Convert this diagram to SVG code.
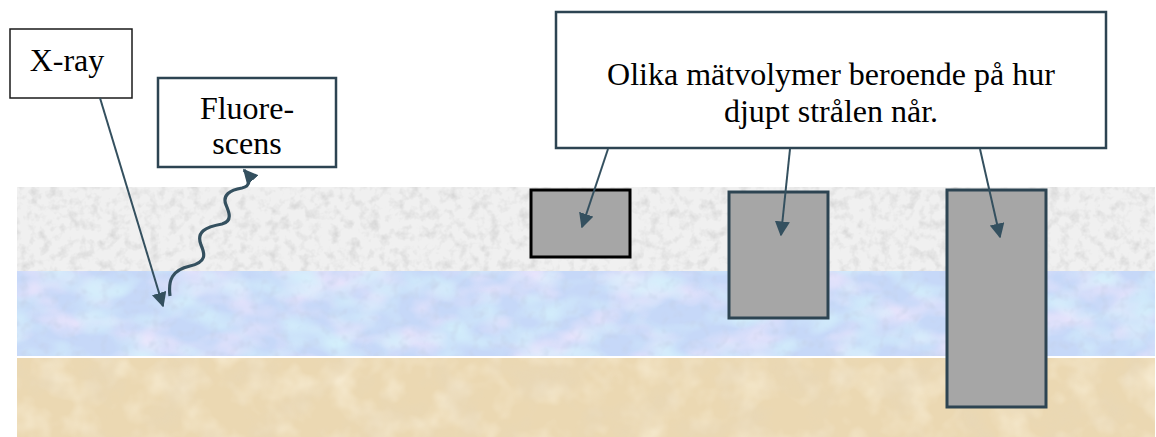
<svg xmlns="http://www.w3.org/2000/svg" width="1156" height="437" viewBox="0 0 1156 437">
  <style>
    .label { font-family: "Liberation Serif", "Times New Roman", serif; font-size: 32px; fill: #000; text-anchor: middle; }
    .box { fill: #ffffff; stroke: #2d4452; stroke-width: 2.5; }
    .box-dark { fill: #ffffff; stroke: #1a1a1a; stroke-width: 1.5; }
    .volume { fill: #a6a6a6; stroke: #2d4452; stroke-width: 3; }
    .volume-black { fill: #a6a6a6; stroke: #000000; stroke-width: 3; }
    .conn { fill: none; stroke: #34505f; stroke-width: 2; marker-end: url(#arrow); }
    .wave { fill: none; stroke: #34505f; stroke-width: 3.2; marker-end: url(#arrow); }
  </style>
  <defs>
    <marker id="arrow" viewBox="0 0 10 10" refX="9" refY="5" markerWidth="15" markerHeight="15" markerUnits="userSpaceOnUse" orient="auto">
      <path d="M0,0 L10,5 L0,10 z" fill="#34505f"/>
    </marker>
    <!-- speckled grey granite grain -->
    <filter id="granite" x="0" y="0" width="100%" height="100%">
      <feTurbulence type="fractalNoise" baseFrequency="0.1" numOctaves="3" seed="4" result="n"/>
      <feColorMatrix in="n" type="matrix" values="0 0 0 0 0.62  0 0 0 0 0.62  0 0 0 0 0.62  1.6 0 0 0 -0.72" result="c"/>
      <feComposite in="c" in2="SourceGraphic" operator="in"/>
    </filter>
    <!-- soft lavender / cyan mottling -->
    <filter id="water" x="0" y="0" width="100%" height="100%">
      <feTurbulence type="fractalNoise" baseFrequency="0.018 0.03" numOctaves="3" seed="7" result="n"/>
      <feColorMatrix in="n" type="matrix" values="0 0 0 0 0.88  0 0 0 0 0.80  0 0 0 0 0.98  2.2 0 0 0 -0.95" result="lav"/>
      <feTurbulence type="fractalNoise" baseFrequency="0.025 0.04" numOctaves="2" seed="11" result="n2"/>
      <feColorMatrix in="n2" type="matrix" values="0 0 0 0 0.66  0 0 0 0 0.88  0 0 0 0 0.97  2.2 0 0 0 -0.95" result="cy"/>
      <feTurbulence type="fractalNoise" baseFrequency="0.1" numOctaves="2" seed="2" result="n3"/>
      <feColorMatrix in="n3" type="matrix" values="0 0 0 0 0.55  0 0 0 0 0.63  0 0 0 0 0.80  1.4 0 0 0 -0.72" result="sp"/>
      <feMerge result="m"><feMergeNode in="lav"/><feMergeNode in="cy"/><feMergeNode in="sp"/></feMerge>
      <feComposite in="m" in2="SourceGraphic" operator="in"/>
    </filter>
    <!-- sandy blotches -->
    <filter id="sand" x="0" y="0" width="100%" height="100%">
      <feTurbulence type="fractalNoise" baseFrequency="0.025" numOctaves="4" seed="9" result="n"/>
      <feColorMatrix in="n" type="matrix" values="0 0 0 0 0.80  0 0 0 0 0.68  0 0 0 0 0.48  1.6 0 0 0 -0.72" result="c"/>
      <feTurbulence type="fractalNoise" baseFrequency="0.03" numOctaves="3" seed="21" result="n2"/>
      <feColorMatrix in="n2" type="matrix" values="0 0 0 0 0.97  0 0 0 0 0.90  0 0 0 0 0.74  1.4 0 0 0 -0.62" result="l"/>
      <feMerge result="m"><feMergeNode in="l"/><feMergeNode in="c"/></feMerge>
      <feComposite in="m" in2="SourceGraphic" operator="in"/>
    </filter>
  </defs>

  <rect width="1156" height="437" fill="#ffffff"/>

  <!-- ground layers -->
  <g id="layers">
    <rect x="17" y="187" width="1138" height="84" fill="#f0f0f0"/>
    <rect x="17" y="187" width="1138" height="84" fill="#000" filter="url(#granite)"/>
    <rect x="17" y="271" width="1138" height="85" fill="#c6d8f8"/>
    <rect x="17" y="271" width="1138" height="85" fill="#000" filter="url(#water)"/>
    <rect x="17" y="358" width="1138" height="79" fill="#ebd8b2"/>
    <rect x="17" y="358" width="1138" height="79" fill="#000" filter="url(#sand)"/>
  </g>

  <!-- measurement volumes -->
  <g id="volume-shallow"><rect class="volume-black" x="531" y="190" width="99" height="67"/></g>
  <g id="volume-medium"><rect class="volume" x="729" y="192" width="99" height="126"/></g>
  <g id="volume-deep"><rect class="volume" x="947" y="190" width="99" height="217"/></g>

  <!-- labels -->
  <g id="xray">
    <rect class="box-dark" x="10" y="29" width="122" height="69"/>
    <text class="label" x="67" y="71">X-ray</text>
  </g>
  <g id="fluorescence">
    <rect class="box" x="158" y="78" width="178" height="89"/>
    <text class="label" x="247" y="119">Fluore-</text>
    <text class="label" x="247" y="154">scens</text>
  </g>
  <g id="volumes-note">
    <rect class="box" x="556" y="12" width="550" height="136"/>
    <text class="label" x="831" y="85">Olika mätvolymer beroende på hur</text>
    <text class="label" x="831" y="122">djupt strålen når.</text>
  </g>

  <g id="connectors">
    <path class="conn" d="M100,98 L163,306"/>
    <path class="wave" d="M170,296 C168,280 172,270 190,266 C207,262 205,254 201,245 C196,232 205,227 222,224 C233,221 229,212 226,205 C222,195 230,190 242,188 C251,186 251,178 244,170"/>
    <path class="conn" d="M608,149 L582,227"/>
    <path class="conn" d="M790,149 L781,235"/>
    <path class="conn" d="M980,149 L1000,237"/>
  </g>
</svg>
